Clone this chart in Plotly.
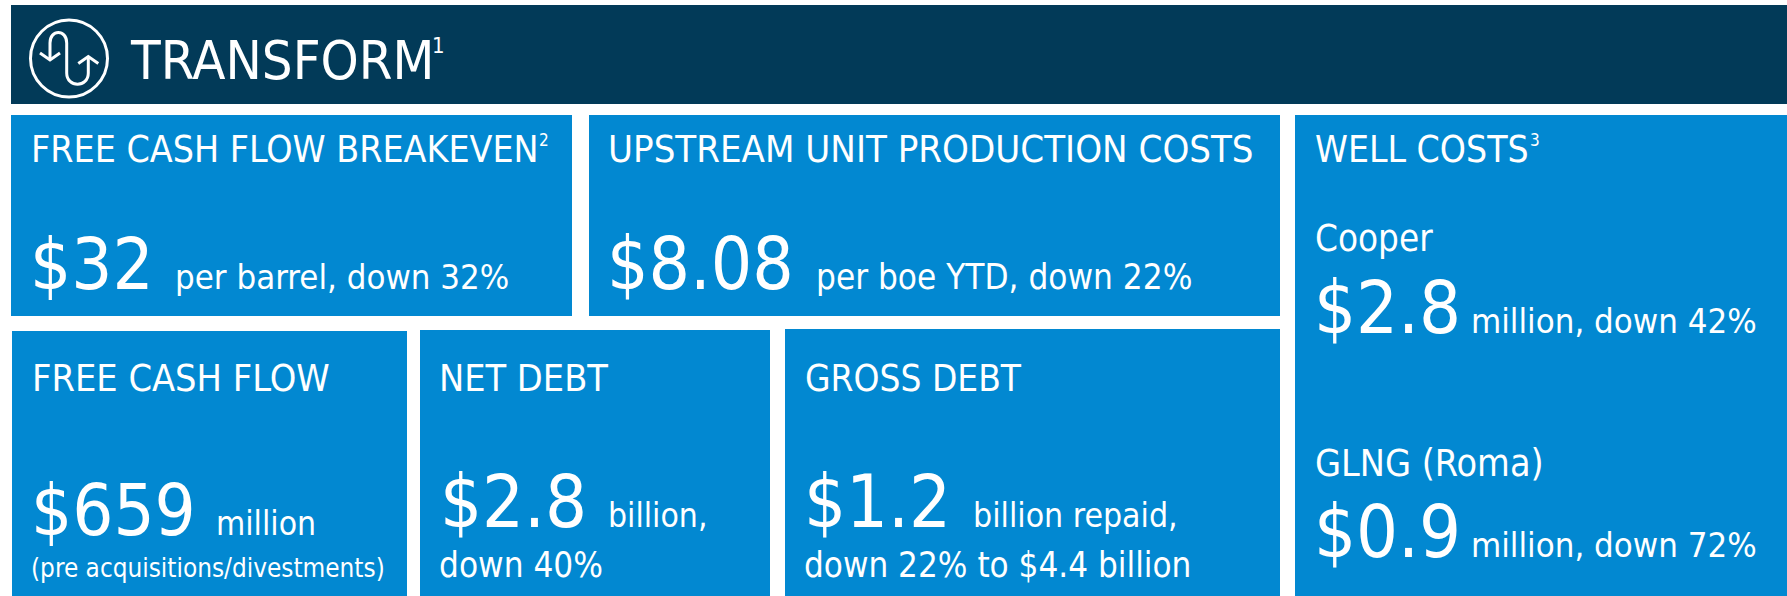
import plotly.graph_objects as go

FONT = "DejaVu Sans Condensed"
HEADER_COLOR = "#023A58"
TILE_COLOR = "#0288D1"

header_title = "TRANSFORM"
titles = ["FREE CASH FLOW BREAKEVEN", "UPSTREAM UNIT PRODUCTION COSTS", "WELL COSTS",
          "FREE CASH FLOW", "NET DEBT", "GROSS DEBT"]
well_labels = ["Cooper", "GLNG (Roma)"]
values = ["$32", "$8.08", "$2.8", "$0.9", "$659", "$2.8", "$1.2"]
value_notes = ["per barrel, down 32%", "per boe YTD, down 22%", "million, down 42%",
               "million, down 72%", "million", "billion,", "billion repaid,"]
extra_notes = ["(pre acquisitions/divestments)", "down 40%", "down 22% to $4.4 billion"]
footnotes = ["1", "2", "3"]

# tile rectangles: x0, y0, x1, y1 in page pixels
tiles = [(11, 115, 572, 316), (589, 115, 1280, 316), (1295, 115, 1787, 596),
         (12, 331, 407, 596), (420, 330, 770, 596), (785, 329, 1280, 596)]

# text placement: x, baseline y, font size
header_pos = (130, 79, 54)
title_pos = [(31, 162, 37.2), (608, 162, 38), (1315, 162, 37), (32, 391, 37.6), (439, 391, 37.5), (805, 391, 36.7)]
well_pos = [(1315, 251, 36.5), (1315, 476, 37.4)]
value_pos = [(30, 289, 72), (607, 289, 72.5), (1314, 333, 73.5), (1314, 557, 73.5),
             (31, 535, 72), (440, 527, 73.5), (804, 527, 73.5)]
note_pos = [(175, 289, 34.5), (816, 289, 34.8), (1471, 333, 34.5), (1471, 557, 34.5),
            (216, 535, 33.4), (608, 527, 33.4), (973, 527, 33.5)]
extra_pos = [(31, 577, 25.9), (439, 577, 34.8), (804, 577, 34.7)]
foot_pos = [(432, 53, 22), (539, 146, 17), (1530, 146, 17)]

BASE = 0.345


def label(text, pos):
    x, y, s = pos
    return dict(x=x, y=y - BASE * s, text=text, xref="x", yref="y", xanchor="left", yanchor="middle",
                showarrow=False, borderpad=0, borderwidth=0,
                font=dict(family=FONT, size=s, color="white"))


anns = [label(header_title, header_pos)]
for group, posn in [(titles, title_pos), (well_labels, well_pos), (values, value_pos),
                    (value_notes, note_pos), (extra_notes, extra_pos), (footnotes, foot_pos)]:
    anns += [label(t, p) for t, p in zip(group, posn)]

shapes = [dict(type="rect", x0=11, y0=5, x1=1787, y1=104, fillcolor=HEADER_COLOR, line_width=0, layer="below")]
for x0, y0, x1, y1 in tiles:
    shapes.append(dict(type="rect", x0=x0, y0=y0, x1=x1, y1=y1, fillcolor=TILE_COLOR, line_width=0, layer="below"))

icon_line = dict(color="white", width=3)
shapes.append(dict(type="circle", x0=30.5, y0=20, x1=107.5, y1=97, line=icon_line))
shapes.append(dict(type="path", line=icon_line,
                   path="M 50 60 L 50 43 C 50 29 66.7 29 66.7 43 L 66.7 73 C 66.7 88 88.3 88 88.3 73 L 88.3 57"))
shapes.append(dict(type="path", line=icon_line, path="M 40 53 L 50 60 L 60 53"))
shapes.append(dict(type="path", line=icon_line, path="M 78.3 63.5 L 88.3 56.5 L 98.3 63.5"))

fig = go.Figure()
fig.update_layout(
    width=1787, height=596, margin=dict(l=0, r=0, t=0, b=0),
    paper_bgcolor="white", plot_bgcolor="white", showlegend=False,
    xaxis=dict(range=[0, 1787], visible=False, fixedrange=True),
    yaxis=dict(range=[596, 0], visible=False, fixedrange=True),
    shapes=shapes, annotations=anns,
)
fig.write_html("out.html", config=dict(displayModeBar=False),
               post_script="document.body.style.margin='0';document.body.style.overflow='hidden';")
